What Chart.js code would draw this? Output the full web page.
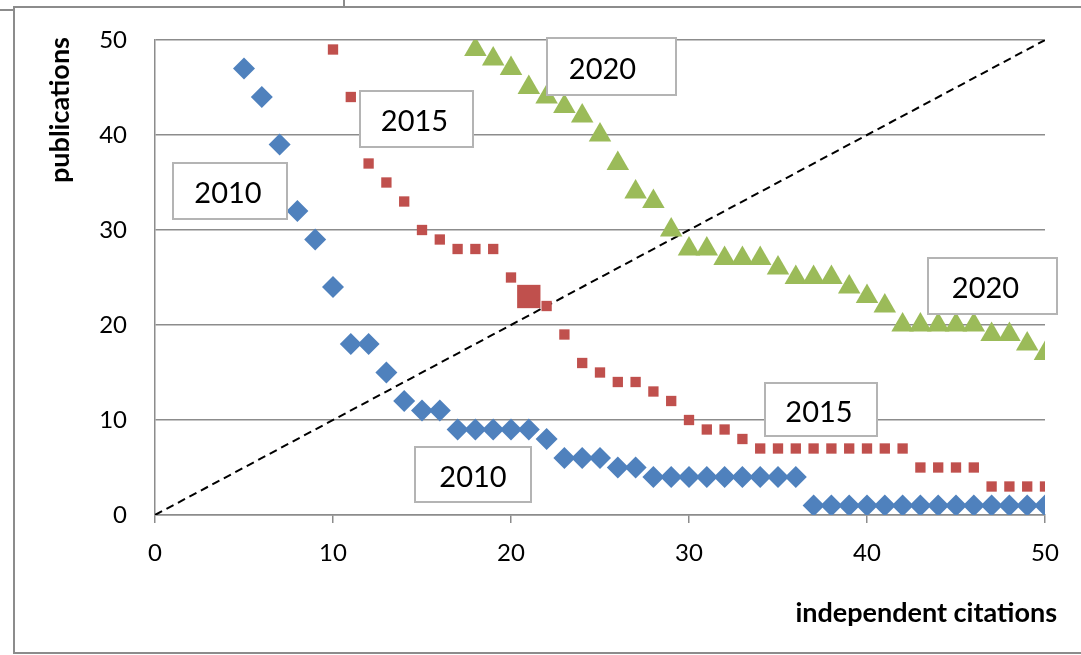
<!DOCTYPE html>
<html>
<head>
<meta charset="utf-8">
<title>publications vs independent citations</title>
<script src="https://cdn.jsdelivr.net/npm/chart.js@4/dist/chart.umd.min.js"></script>
<style>
  html, body { margin: 0; padding: 0; background: #fff; }
  #wrap { width: 1081px; height: 655px; }
</style>
</head>
<body>
<div id="wrap"><canvas id="chart" width="1081" height="655"></canvas></div>
<script>
// citations (x) and publications (y) per year
const cites2010 = [5,6,7,8,9,10,11,12,13,14,15,16,17,18,19,20,21,22,23,24,25,26,27,28,29,30,31,32,33,34,35,36,37,38,39,40,41,42,43,44,45,46,47,48,49,50];
const pubs2010 = [47,44,39,32,29,24,18,18,15,12,11,11,9,9,9,9,9,8,6,6,6,5,5,4,4,4,4,4,4,4,4,4,1,1,1,1,1,1,1,1,1,1,1,1,1,1];

const cites2015 = [10,11,12,13,14,15,16,17,18,19,20,21,22,23,24,25,26,27,28,29,30,31,32,33,34,35,36,37,38,39,40,41,42,43,44,45,46,47,48,49,50];
const pubs2015 = [49,44,37,35,33,30,29,28,28,28,25,23,22,19,16,15,14,14,13,12,10,9,9,8,7,7,7,7,7,7,7,7,7,5,5,5,5,3,3,3,3];
const hIndex2015 = 21; // the point drawn as a big square

const cites2020 = [18,19,20,21,22,23,24,25,26,27,28,29,30,31,32,33,34,35,36,37,38,39,40,41,42,43,44,45,46,47,48,49,50];
const pubs2020 = [49,48,47,45,44,43,42,40,37,34,33,30,28,28,27,27,27,26,25,25,25,24,23,22,20,20,20,20,20,19,19,18,17];

const diagonalX = [0, 50];
const diagonalY = [0, 50];

const xTicks = [0, 10, 20, 30, 40, 50];
const yTicks = [0, 10, 20, 30, 40, 50];

const labelTexts = ['2020', '2015', '2010', '2020', '2015', '2010'];

const FONT = 'Lato, "Open Sans", sans-serif';
const GRID = '#8c8c8c';

function points(xs, ys) {
    return xs.map((x, i) => ({ x: x, y: ys[i] }));
}

// boxes with the year labels, in pixels (dx nudges the text)
const labelBoxes = [
    { l: 547, t: 38, r: 676, b: 95, dx: -9 },
    { l: 360, t: 91, r: 473, b: 147, dx: -2 },
    { l: 173, t: 163, r: 287, b: 219, dx: -2 },
    { l: 928, t: 258, r: 1057, b: 314, dx: -7 },
    { l: 765, t: 383, r: 877, b: 436, dx: -2 },
    { l: 415, t: 447, r: 531, b: 502, dx: 0 }
];

const decorations = {
    id: 'decorations',
    beforeDraw(chart) {
        const ctx = chart.ctx;
        ctx.save();
        ctx.fillStyle = '#fff';
        ctx.fillRect(0, 0, chart.width, chart.height);
        ctx.strokeStyle = '#8c8c8c';
        ctx.lineWidth = 2;
        // outer frame
        ctx.beginPath();
        ctx.moveTo(1081, 7);
        ctx.lineTo(14, 7);
        ctx.lineTo(14, 653);
        ctx.lineTo(1081, 653);
        ctx.moveTo(0, 10);
        ctx.lineTo(14, 10);
        ctx.moveTo(344, 0);
        ctx.lineTo(344, 7);
        ctx.stroke();
        ctx.restore();
    },
    afterDraw(chart) {
        const ctx = chart.ctx;
        ctx.save();
        // year boxes
        labelBoxes.forEach((b, i) => {
            ctx.fillStyle = '#fff';
            ctx.fillRect(b.l, b.t, b.r - b.l, b.b - b.t);
            ctx.strokeStyle = '#b4b4b4';
            ctx.lineWidth = 2;
            ctx.strokeRect(b.l, b.t, b.r - b.l, b.b - b.t);
            ctx.fillStyle = '#000';
            ctx.font = '29px ' + FONT;
            ctx.textAlign = 'center';
            ctx.textBaseline = 'middle';
            ctx.fillText(labelTexts[i], (b.l + b.r) / 2 + b.dx, (b.t + b.b) / 2 + 3);
        });
        // axis titles
        ctx.fillStyle = '#000';
        ctx.font = 'bold 27px ' + FONT;
        ctx.textAlign = 'right';
        ctx.textBaseline = 'middle';
        ctx.fillText('independent citations', 1057, 613);
        ctx.translate(60, 110);
        ctx.rotate(-Math.PI / 2);
        ctx.textAlign = 'center';
        ctx.fillText('publications', 0, 0);
        ctx.restore();
    }
};

const ctx = document.getElementById('chart').getContext('2d');
const chart = new Chart(ctx, {
    type: 'scatter',
    data: {
        datasets: [
            {
                label: 'diagonal',
                data: points(diagonalX, diagonalY),
                showLine: true,
                borderColor: '#000',
                borderWidth: 2,
                borderDash: [8, 5],
                pointRadius: 0,
                order: 4
            },
            {
                label: '2010',
                data: points(cites2010, pubs2010),
                pointStyle: 'rectRot',
                pointRadius: 11,
                backgroundColor: '#4f81bd',
                borderColor: '#4f81bd',
                borderWidth: 0,
                order: 3
            },
            {
                label: '2015',
                data: points(cites2015, pubs2015),
                pointStyle: 'rect',
                pointRadius: cites2015.map(c => c === hIndex2015 ? 16.5 : 7.3),
                backgroundColor: '#c0504d',
                borderColor: '#c0504d',
                borderWidth: 0,
                order: 2
            },
            {
                label: '2020',
                data: points(cites2020, pubs2020),
                pointStyle: 'triangle',
                pointRadius: 13,
                backgroundColor: '#9bbb59',
                borderColor: '#9bbb59',
                borderWidth: 0,
                order: 1
            }
        ]
    },
    options: {
        responsive: false,
        animation: false,
        events: [],
        layout: { padding: { left: 0, right: 36, top: 40, bottom: 0 } },
        plugins: {
            legend: { display: false },
            tooltip: { enabled: false },
            title: { display: false }
        },
        scales: {
            x: {
                type: 'linear',
                min: 0,
                max: 50,
                afterBuildTicks: (s) => { s.ticks = xTicks.map(v => ({ value: v })); },
                afterFit: (s) => { s.height = 140; s.paddingLeft = 0; s.paddingRight = 0; },
                grid: { drawOnChartArea: false, tickLength: 8, color: GRID, lineWidth: 1.5 },
                border: { color: GRID, width: 1.5 },
                ticks: { color: '#000', font: { family: FONT, size: 24 }, padding: 16, maxRotation: 0 }
            },
            y: {
                type: 'linear',
                min: 0,
                max: 50,
                afterBuildTicks: (s) => { s.ticks = yTicks.map(v => ({ value: v })); },
                afterFit: (s) => { s.width = 155; s.paddingTop = 0; s.paddingBottom = 0; },
                grid: { drawTicks: false, color: GRID, lineWidth: 1.5 },
                border: { color: GRID, width: 1.5 },
                ticks: { color: '#000', font: { family: FONT, size: 24 }, padding: 28 }
            }
        }
    },
    plugins: [decorations]
});
</script>
</body>
</html>
